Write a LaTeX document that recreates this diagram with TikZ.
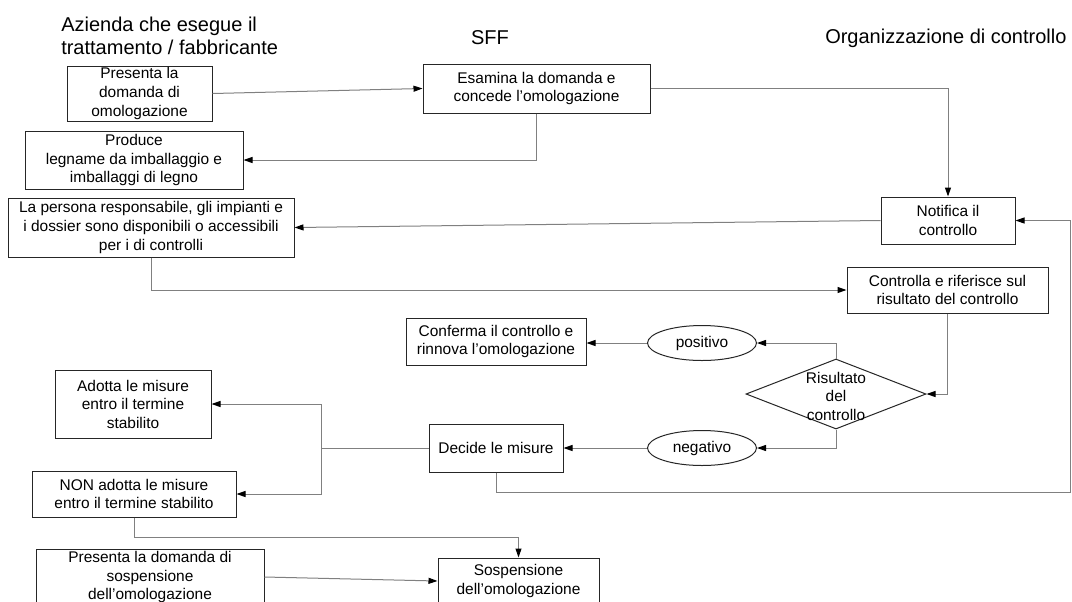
\documentclass[tikz,border=0pt]{standalone}
\usepackage{fontspec}
\setmainfont{Liberation Sans}
\usetikzlibrary{arrows.meta,shapes.geometric}
\newcommand{\bxf}{\fontsize{11.6}{13.9}\selectfont}
\newcommand{\ttlf}{\fontsize{15}{17.25}\selectfont}
\tikzset{
  x=0.75pt, y=-0.75pt,
  box/.style={draw=black!85, line width=0.75pt, fill=white, align=center, inner sep=1pt, font=\bxf},
  oval/.style={ellipse, draw=black!85, line width=0.75pt, fill=white, inner sep=0pt, minimum width=81.75pt, minimum height=26.25pt, font=\bxf},
  dia/.style={diamond, draw=black!85, line width=0.75pt, fill=white, inner sep=0pt, minimum width=135pt, minimum height=52.5pt},
  ttl/.style={font=\ttlf, inner sep=0pt, align=left},
  arr/.style={draw=black!50, line width=0.75pt, -{Triangle[length=6.75pt,width=4.5pt,color=black]}},
  ln/.style={draw=black!50, line width=0.75pt}
}
\begin{document}
\begin{tikzpicture}
\path[use as bounding box, fill=white] (0,0) rectangle (1072,601);

% titles
\node[ttl, anchor=base west] (t1) at (61,54) {Azienda che esegue il\\trattamento / fabbricante};
\node[ttl, anchor=base] (t2) at (490,44) {SFF};
\node[ttl, anchor=base west] (t3) at (825,43) {Organizzazione di controllo};

% boxes
\node[box, minimum width=108.75pt, minimum height=41.25pt] (p1) at (139.5,93.5) {Presenta la\\domanda di\\omologazione};
\node[box, minimum width=163.5pt, minimum height=43.5pt] (p2) at (134,160) {Produce\\legname da imballaggio e\\imballaggi di legno};
\node[box, minimum width=170.25pt, minimum height=36.75pt] (e) at (536.5,88.5) {Esamina la domanda e\\concede l’omologazione};
\node[box, minimum width=214.5pt, minimum height=44.25pt] (r) at (151,227.5) {La persona responsabile, gli impianti e\\i dossier sono disponibili o accessibili\\per i di controlli};
\node[box, minimum width=100.5pt, minimum height=35.25pt] (n) at (948,220.5) {Notifica il\\controllo};
\node[box, minimum width=150.75pt, minimum height=34.5pt] (c) at (947.5,290) {Controlla e riferisce sul\\risultato del controllo};
\node[box, minimum width=135pt, minimum height=35.25pt] (cf) at (496,341.5) {Conferma il controllo e\\rinnova l’omologazione};
\node[oval] (pos) at (702,343) {positivo};
\node[dia] (d) at (836,394) {};
\node[font=\bxf, align=center, inner sep=0pt] (dt) at (836,396) {Risultato\\del\\controllo};
\node[oval] (neg) at (702,448) {negativo};
\node[box, minimum width=100.5pt, minimum height=36pt] (dec) at (496,448) {Decide le misure};
\node[box, minimum width=117pt, minimum height=51pt] (ad) at (133,404) {Adotta le misure\\entro il termine\\stabilito};
\node[box, minimum width=153pt, minimum height=34.5pt] (non) at (134,494) {NON adotta le misure\\entro il termine stabilito};
\node[box, minimum width=171pt, minimum height=40.5pt] (ps) at (150,577) {Presenta la domanda di\\sospensione\\dell’omologazione};
\node[box, minimum width=120.75pt, minimum height=34.5pt] (sos) at (518.5,581) {Sospensione\\dell’omologazione};

% helper coordinates
\coordinate (j) at (321,448);
\coordinate (k) at (1070,492);
\coordinate (m) at (518.5,537);

% connectors
\draw[arr] (p1.east) -- (e.west);
\draw[arr] (e.south) |- (p2.east);
\draw[arr] (e.east) -| (n.north);
\draw[arr] (n.west) -- (r.east);
\draw[arr] (r.south) |- (c.west);
\draw[arr] (c.south) |- (d.east);
\draw[arr] (d.north) |- (pos.east);
\draw[arr] (pos.west) -- (pos.west -| cf.east);
\draw[arr] (d.south) |- (neg.east);
\draw[arr] (neg.west) -- (dec.east);
\draw[ln] (dec.west) -- (j);
\draw[arr] (j) |- (ad.east);
\draw[arr] (j) |- (non.east);
\draw[arr] (dec.south) |- (k) |- (n.east);
\draw[arr] (non.south) |- (m) -- (sos.north);
\draw[arr] (ps.east) -- (sos.west);
\end{tikzpicture}
\end{document}
